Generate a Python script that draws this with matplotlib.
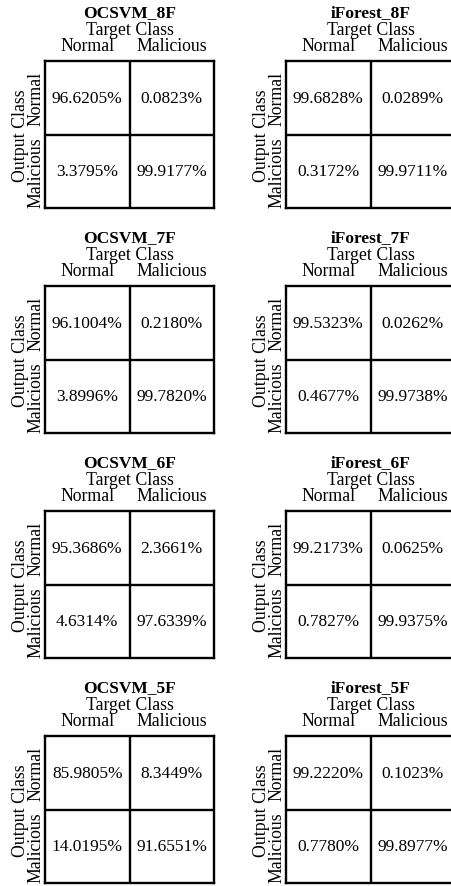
import numpy as np
import matplotlib
matplotlib.use("Agg")
import matplotlib.pyplot as plt
from matplotlib.colors import ListedColormap

plt.rcParams['font.family'] = ['Liberation Serif', 'DejaVu Serif']

titles = ["OCSVM_8F", "iForest_8F",
          "OCSVM_7F", "iForest_7F",
          "OCSVM_6F", "iForest_6F",
          "OCSVM_5F", "iForest_5F"]

class_labels = ["Normal", "Malicious"]

# Confusion matrices in percent: rows = output class, cols = target class
ocsvm_8f = [[96.6205, 0.0823], [3.3795, 99.9177]]
iforest_8f = [[99.6828, 0.0289], [0.3172, 99.9711]]
ocsvm_7f = [[96.1004, 0.2180], [3.8996, 99.7820]]
iforest_7f = [[99.5323, 0.0262], [0.4677, 99.9738]]
ocsvm_6f = [[95.3686, 2.3661], [4.6314, 97.6339]]
iforest_6f = [[99.2173, 0.0625], [0.7827, 99.9375]]
ocsvm_5f = [[85.9805, 8.3449], [14.0195, 91.6551]]
iforest_5f = [[99.2220, 0.1023], [0.7780, 99.8977]]

matrices = [ocsvm_8f, iforest_8f, ocsvm_7f, iforest_7f,
            ocsvm_6f, iforest_6f, ocsvm_5f, iforest_5f]

W, H = 451, 887
fig = plt.figure(figsize=(W / 100, H / 100), dpi=100)

ax_w, ax_h = 169, 147
col_left = [45, 286]
row_top = [62, 287, 512, 737]

white = ListedColormap(["white"])
LW = 1.7
FS_CELL = 12.5
FS_LABEL = 12.8
FS_TITLE = 12.5

for idx, (title, mat) in enumerate(zip(titles, matrices)):
    r, c = divmod(idx, 2)
    left = col_left[c] / W
    bottom = 1 - (row_top[r] + ax_h) / H
    ax = fig.add_axes([left, bottom, ax_w / W, ax_h / H])
    m = np.array(mat)
    ax.imshow(m, cmap=white, aspect='auto', extent=(0, 2, 2, 0))
    ax.set_xlim(0, 2)
    ax.set_ylim(2, 0)
    ax.axhline(1, color='black', lw=LW)
    ax.axvline(1, color='black', lw=LW)
    for sp in ax.spines.values():
        sp.set_linewidth(LW)
        sp.set_color('black')
    for i in range(2):
        for j in range(2):
            ax.text(j + 0.5, i + 0.5, f"{m[i, j]:.4f}%", ha='center', va='center',
                    fontsize=FS_CELL)

    # column (target) labels along the top
    ax.xaxis.tick_top()
    ax.set_xticks([0.5, 1.5])
    ax.set_xticklabels(class_labels, fontsize=FS_LABEL, va='baseline')
    ax.tick_params(axis='x', length=0, pad=7.8)

    # row (output) labels along the left
    ax.set_yticks([0.5, 1.5])
    ax.set_yticklabels(class_labels, fontsize=FS_LABEL, rotation=90,
                       rotation_mode='anchor', ha='center', va='baseline')
    ax.tick_params(axis='y', length=0, pad=3.2)

    ax.text(0.5, 1 + 27 / ax_h, "Target Class", transform=ax.transAxes,
            ha='center', va='baseline', fontsize=FS_LABEL)
    ax.text(0.5, 1 + 45 / ax_h, title, transform=ax.transAxes,
            ha='center', va='baseline', fontsize=FS_TITLE, fontweight='bold')
    ax.text(-20 / ax_w, 0.5, "Output Class", transform=ax.transAxes,
            ha='center', va='baseline', rotation=90, rotation_mode='anchor',
            fontsize=FS_LABEL)

fig.savefig("out.png", dpi=100)
